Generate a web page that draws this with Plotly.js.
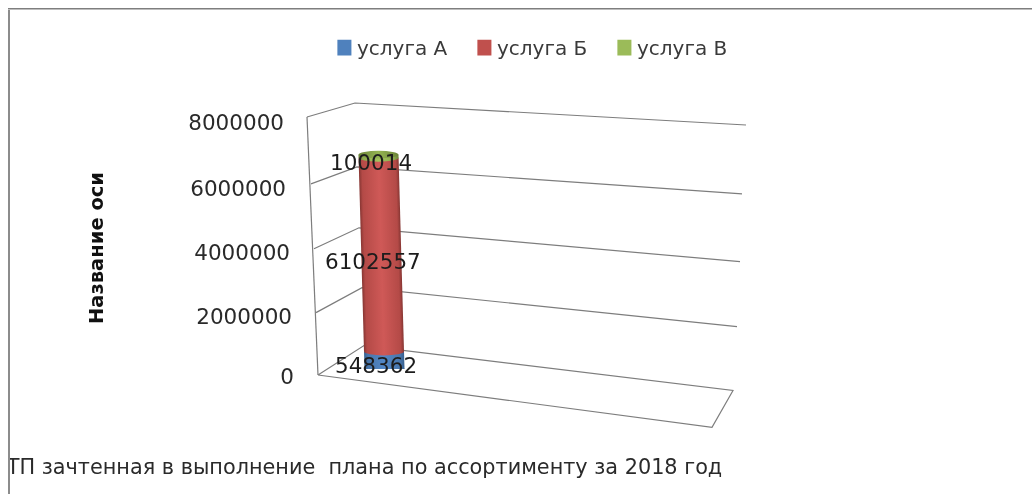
<!DOCTYPE html>
<html>
<head>
<meta charset="utf-8">
<script src="https://cdn.plot.ly/plotly-3.0.1.min.js"></script>
<style>
html,body{margin:0;padding:0;background:#fff;overflow:hidden}
#chart{position:absolute;left:0;top:0;width:1032px;height:494px;filter:blur(0.6px)}
#frameL{position:absolute;left:0;top:0;width:8px;height:494px;background:#fff;border-right:2px solid #8c8c8c;filter:blur(0.3px)}
#frameT{position:absolute;left:8px;top:0;width:1024px;height:8px;background:#fff;border-bottom:1px solid #7e7e7e;box-shadow:0 1px 0 #bdbdbd}
</style>
</head>
<body>
<div id="chart"></div>
<div id="frameL"></div>
<div id="frameT"></div>
<script>
// Data
const categories = ["ТП зачтенная в выполнение\u00a0 плана по ассортименту за 2018 год"];
const seriesNames = ["услуга А", "услуга Б", "услуга В"];
const valuesA = [548362];
const valuesB = [6102557];
const valuesC = [100014];
const yTicks = [0, 2000000, 4000000, 6000000, 8000000];
const axisTitle = "Название оси";

const seriesValues = [valuesA, valuesB, valuesC];
const baseColors = ["#4f81bd", "#c0504d", "#9bbb59"];
const capColor = "#8fae50";
const FONT = "DejaVu Sans, sans-serif";

// Plot rectangle in page pixels
const L = 318, R = 733, T = 115, B = 369.5;
const W = R - L, H = B - T;
const xp = px => (px - L) / W;
const yp = py => (B - py) / H;
const pyOf = v => B - (v / 8000000) * H;

// Column lean of the 3-D view
const LEAN = 0.028, MIDY = 262, CX = 381.5;
const cxAt = py => CX + LEAN * (py - MIDY);

// Walls and floor of the 3-D box (decoration, not data)
const wallLines = [
  [[307,117],[355,103],[746,125]],
  [[311,184],[357,167],[742,194]],
  [[314,249],[359,228],[740,262]],
  [[316,313],[362,288],[737,327]],
  [[318,375.5],[364,346],[733,391],[712,428],[318,375.5]],
  [[307,117],[318,375.5]]
];
const shapes = wallLines.map(pts => ({
  type: "path", xref: "paper", yref: "paper", layer: "below",
  path: pts.map((p,i) => (i ? "L" : "M") + xp(p[0]) + " " + yp(p[1])).join(" "),
  line: {color: "#7d7d7d", width: 1.2}
}));

// Elliptical ends of each stacked segment, tied to the data values
let cum = 0;
const mids = [];
seriesValues.forEach((vals, i) => {
  const py = pyOf(cum);
  shapes.push({
    type: "circle", xref: "paper", yref: "y", layer: "above",
    xsizemode: "pixel", ysizemode: "pixel",
    xanchor: xp(cxAt(py)), yanchor: cum,
    x0: -20, x1: 20, y0: -3.8, y1: 3.8,
    fillcolor: baseColors[i], line: {width: 0}
  });
  mids.push(cum + vals[0] / 2);
  cum += vals[0];
});
shapes.push({
  type: "circle", xref: "paper", yref: "y", layer: "above",
  xsizemode: "pixel", ysizemode: "pixel",
  xanchor: xp(cxAt(pyOf(cum))), yanchor: cum,
  x0: -20, x1: 20, y0: -3.8, y1: 3.8,
  fillcolor: capColor, line: {width: 0}
});

const labelShiftX = [-6, -8.5, -11];
const labelShiftY = [-5, -7, -6.5];
const annotations = seriesValues.map((vals, i) => ({
  xref: "x", yref: "y", x: categories[0], y: mids[i],
  text: String(vals[0]), showarrow: false,
  xshift: labelShiftX[i], yshift: labelShiftY[i],
  font: {family: FONT, size: 21.5, color: "#1c1c1c"}
}));

const traces = seriesNames.map((name, i) => ({
  type: "bar", name: name, x: categories, y: seriesValues[i],
  marker: {color: baseColors[i], line: {width: 0}}
}));

const layout = {
  width: 1032, height: 494,
  margin: {l: L, r: 1032 - R, t: T, b: 494 - B, pad: 0},
  paper_bgcolor: "#fff", plot_bgcolor: "rgba(0,0,0,0)",
  barmode: "stack", bargap: 0.2,
  showlegend: true,
  legend: {
    orientation: "h", x: xp(317), xanchor: "left", y: yp(28), yanchor: "top",
    traceorder: "normal", entrywidth: 95, entrywidthmode: "pixels",
    font: {family: FONT, size: 20, color: "#3a3a3a"}, bgcolor: "rgba(0,0,0,0)"
  },
  xaxis: {
    type: "category", range: [-1.27, 7.03], fixedrange: true,
    showgrid: false, zeroline: false, showline: false, ticks: "",
    tickfont: {family: FONT, size: 20.8, color: "#2a2a2a"},
    ticklabelstandoff: 83, ticklabelshift: -17, automargin: false
  },
  yaxis: {
    range: [0, 8000000], tickvals: yTicks, ticktext: yTicks.map(String),
    fixedrange: true, showgrid: false, zeroline: false, showline: false, ticks: "",
    tickfont: {family: FONT, size: 21.5, color: "#2a2a2a"},
    ticklabelstandoff: 30, automargin: false,
    title: {text: axisTitle, font: {family: FONT, size: 19.5, color: "#111", weight: "bold"}}
  },
  shapes: shapes,
  annotations: annotations
};

// Label offsets along the slanted front edge of the 3-D box, from bottom tick to top
const tickShiftX = [7, 5, 3, -1, -3];
const tickShiftY = [7, 11, 10, 10, 7];

Plotly.newPlot("chart", traces, layout, {staticPlot: true, displayModeBar: false}).then(gd => {
  const NS = "http://www.w3.org/2000/svg";
  const svg = gd.querySelector(".main-svg");
  const defs = svg.querySelector("defs");
  const grad = (id, stops) => {
    const g = document.createElementNS(NS, "linearGradient");
    g.setAttribute("id", id);
    g.setAttribute("x1", "0"); g.setAttribute("x2", "1"); g.setAttribute("y1", "0"); g.setAttribute("y2", "0");
    stops.forEach(s => {
      const st = document.createElementNS(NS, "stop");
      st.setAttribute("offset", s[0]); st.setAttribute("stop-color", s[1]);
      g.appendChild(st);
    });
    defs.appendChild(g);
    return "url(#" + id + ")";
  };
  const ramp = {
    "rgb(79, 129, 189)": grad("gA", [[0,"#37608f"],[0.1,"#4876ac"],[0.5,"#5287c6"],[0.9,"#4876ac"],[1,"#37608f"]]),
    "rgb(192, 80, 77)": grad("gB", [[0,"#873633"],[0.08,"#b44a47"],[0.5,"#cf5957"],[0.92,"#b44a47"],[1,"#873633"]]),
    "rgb(155, 187, 89)": grad("gC", [[0,"#6c8439"],[0.12,"#8dab4e"],[0.5,"#a3c45e"],[0.88,"#8dab4e"],[1,"#6c8439"]]),
    "rgb(143, 174, 80)": grad("gT", [[0,"#6c8439"],[0.5,"#94b452"],[1,"#6c8439"]])
  };
  const shift = (el, dx, dy) => {
    el.setAttribute("transform", "translate(" + dx + "," + dy + ") " + (el.getAttribute("transform") || ""));
  };
  gd.querySelectorAll(".bars .point path").forEach(p => {
    const c = ramp[p.style.fill]; if (c) p.style.fill = c;
    p.style.shapeRendering = "geometricPrecision";
    p.setAttribute("transform", "matrix(1,0," + LEAN + ",1," + (-LEAN * (MIDY - T)) + ",0)");
  });
  gd.querySelectorAll(".shapelayer path").forEach(p => {
    const c = ramp[p.style.fill]; if (c) p.style.fill = c;
  });
  gd.querySelectorAll(".ytick text").forEach((t, i) => shift(t, tickShiftX[i], tickShiftY[i]));
  const yt = gd.querySelector(".ytitle");
  if (yt) shift(yt, -81, 6);
  gd.querySelectorAll(".legend .traces .legendpoints").forEach(g => {
    g.setAttribute("transform", "translate(4,0) scale(1.17,1.3)");
  });
});
</script>
</body>
</html>
